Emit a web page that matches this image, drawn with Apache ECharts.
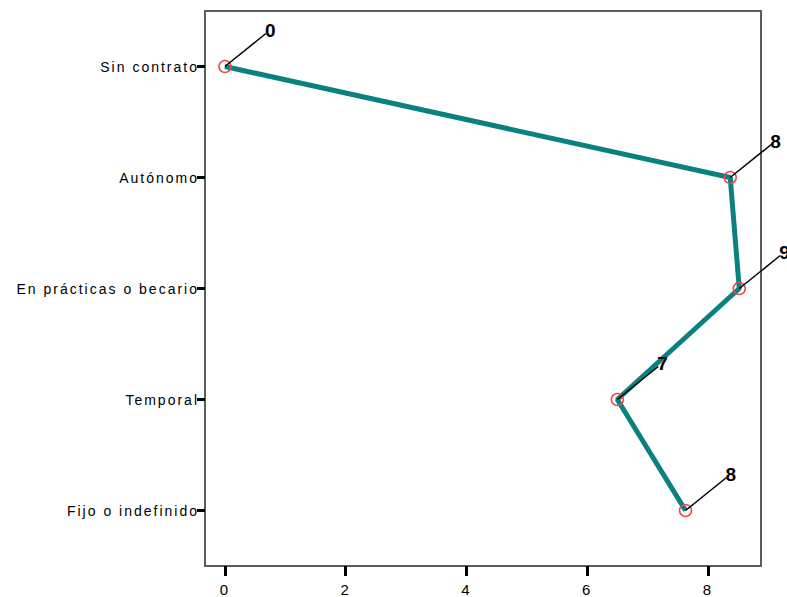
<!DOCTYPE html>
<html>
<head>
<meta charset="utf-8">
<script src="https://cdn.jsdelivr.net/npm/echarts@6/dist/echarts.min.js"></script>
<style>
  html, body { margin: 0; padding: 0; background: #fff; }
  #chart { width: 787px; height: 597px; }
  #chart text { letter-spacing: 2px; }
</style>
</head>
<body>
<div id="chart"></div>
<script>
const categories = ['Sin contrato', 'Autónomo', 'En prácticas o becario', 'Temporal', 'Fijo o indefinido'];
const values = [0, 8.37, 8.52, 6.50, 7.63];
const valueLabels = ['0', '8', '9', '7', '8'];
const xTicks = [0, 2, 4, 6, 8];

const FONT = 'Liberation Sans, Arial, sans-serif';
const pairs = values.map((v, i) => [v, categories[i]]);

const chart = echarts.init(document.getElementById('chart'), null, { renderer: 'svg' });
chart.setOption({
  animation: false,
  backgroundColor: '#fff',
  grid: { left: 205, right: 26, top: 11, bottom: 31, show: true, borderColor: '#5c5c5c', borderWidth: 2 },
  xAxis: {
    type: 'value',
    min: -0.33,
    max: 8.88,
    splitLine: { show: false },
    axisLine: { show: true, onZero: false, lineStyle: { color: '#5c5c5c', width: 2 } },
    axisTick: { show: true, customValues: xTicks, length: 10, lineStyle: { color: '#000', width: 3 } },
    axisLabel: { customValues: xTicks, color: '#000', fontSize: 15, fontFamily: FONT, margin: 16 }
  },
  yAxis: {
    type: 'category',
    data: categories,
    inverse: true,
    boundaryGap: true,
    splitLine: { show: false },
    axisLine: { show: true, onZero: false, lineStyle: { color: '#5c5c5c', width: 2 } },
    axisTick: { show: true, alignWithLabel: true, length: 8, lineStyle: { color: '#000', width: 3 } },
    axisLabel: { color: '#000', fontSize: 14, fontFamily: FONT, margin: 6 }
  },
  series: [
    {
      type: 'line',
      data: pairs,
      symbol: 'circle',
      symbolSize: 12,
      itemStyle: { color: 'rgba(0,0,0,0)', borderColor: '#f04848', borderWidth: 1.5 },
      lineStyle: { color: '#0a8080', width: 5 },
      z: 2
    },
    {
      type: 'custom',
      data: pairs,
      z: 5,
      renderItem: function (params, api) {
        const p = api.coord([api.value(0), api.value(1)]);
        return {
          type: 'group',
          children: [
            { type: 'line', shape: { x1: p[0], y1: p[1], x2: p[0] + 41, y2: p[1] - 33 },
              style: { stroke: '#000', lineWidth: 1.5 } },
            { type: 'text', x: p[0] + 40, y: p[1] - 36,
              style: { text: valueLabels[params.dataIndex], fill: '#000',
                       font: 'bold 19px ' + FONT, align: 'left', verticalAlign: 'middle' } }
          ]
        };
      }
    }
  ]
});
</script>
</body>
</html>
